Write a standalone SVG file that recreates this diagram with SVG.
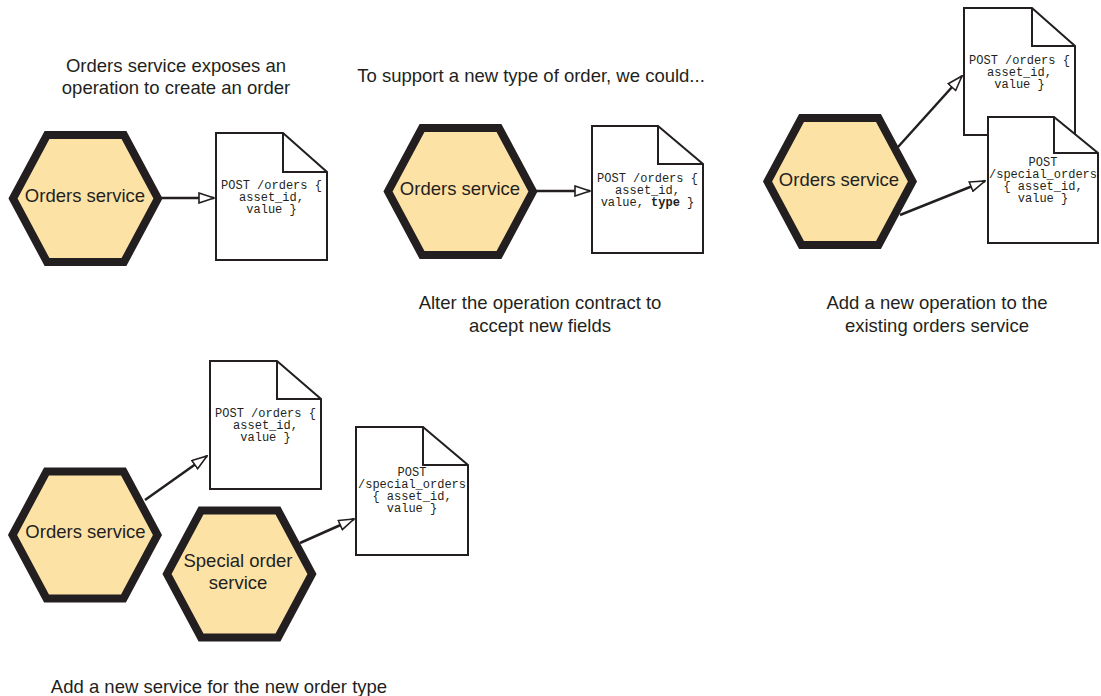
<svg xmlns="http://www.w3.org/2000/svg" xmlns:xlink="http://www.w3.org/1999/xlink" width="1101" height="696" viewBox="0 0 1101 696">
<style>
.cap{font-family:"Liberation Sans",Arial,Helvetica,sans-serif;font-size:18.5px;fill:#231f20;text-anchor:middle}
.hex{fill:#fde2a6;stroke:#231f20;stroke-width:8;stroke-linejoin:miter}
.doc{fill:#ffffff;stroke:#231f20;stroke-width:2}
.fold{fill:none;stroke:#231f20;stroke-width:2}
.code{font-family:"Liberation Mono","Courier New",monospace;font-size:12px;fill:#231f20;text-anchor:middle}
.lbl{font-family:"Liberation Sans",Arial,Helvetica,sans-serif;font-size:18.5px;fill:#231f20;text-anchor:middle}
.con{fill:none;stroke:#231f20;stroke-width:2.5;marker-end:url(#arr)}
</style>
<defs>
<marker id="arr" markerUnits="userSpaceOnUse" viewBox="-1 -1 17 12" refX="15" refY="5" markerWidth="17" markerHeight="12" orient="auto">
<path d="M0,0 L15,5 L0,10 Z" fill="#ffffff" stroke="#231f20" stroke-width="1.6" stroke-linejoin="miter"/>
</marker>
<path id="hexshape" d="M-72.5,0 L-38.5,-63.5 L38.5,-63.5 L72.5,0 L38.5,63.5 L-38.5,63.5 Z"/>
</defs>
<rect width="1101" height="696" fill="#ffffff"/>

<g id="captions">
<text class="cap" x="176" y="72">Orders service exposes an</text>
<text class="cap" x="176" y="94">operation to create an order</text>
<text class="cap" x="531" y="82">To support a new type of order, we could...</text>
<text class="cap" x="540" y="309">Alter the operation contract to</text>
<text class="cap" x="540" y="332">accept new fields</text>
<text class="cap" x="937" y="309">Add a new operation to the</text>
<text class="cap" x="937" y="332">existing orders service</text>
<text class="cap" x="219" y="693">Add a new service for the new order type</text>
</g>

<g id="connectors">
<path class="con" d="M160,198 L214,198"/>
<path class="con" d="M535,191 L590,191"/>
<path class="con" d="M898,147 L962,76"/>
<path class="con" d="M900,215 L985,181"/>
<path class="con" d="M145,500 L207,456"/>
<path class="con" d="M300,543 L354,519"/>
</g>

<g id="hex1">
<use xlink:href="#hexshape" class="hex" transform="translate(85.5,198.5)"/>
<text class="lbl" x="85" y="202">Orders service</text>
</g>
<g id="doc1">
<path class="doc" d="M216,133 H283 L327,172 V260 H216 Z"/>
<path class="fold" d="M283,133 V172 H327"/>
<text class="code" x="271.5" y="189">POST /orders {</text>
<text class="code" x="271.5" y="201">asset_id,</text>
<text class="code" x="271.5" y="213">value }</text>
</g>

<g id="hex2">
<use xlink:href="#hexshape" class="hex" transform="translate(460.5,191.5)"/>
<text class="lbl" x="460" y="195">Orders service</text>
</g>
<g id="doc2">
<path class="doc" d="M592,126 H658 L703,164 V253 H592 Z"/>
<path class="fold" d="M658,126 V164 H703"/>
<text class="code" x="647.5" y="182">POST /orders {</text>
<text class="code" x="647.5" y="194">asset_id,</text>
<text class="code" x="647.5" y="206">value, <tspan font-weight="bold">type</tspan> }</text>
</g>

<g id="hex3">
<use xlink:href="#hexshape" class="hex" transform="translate(840,181.5)"/>
<text class="lbl" x="839" y="186">Orders service</text>
</g>
<g id="doc3a">
<path class="doc" d="M964,8 H1032 L1075,46 V135 H964 Z"/>
<path class="fold" d="M1032,8 V46 H1075"/>
<text class="code" x="1019.5" y="64">POST /orders {</text>
<text class="code" x="1019.5" y="76">asset_id,</text>
<text class="code" x="1019.5" y="88">value }</text>
</g>
<g id="doc3b">
<path class="doc" d="M988,117 H1054 L1098,153 V243 H988 Z"/>
<path class="fold" d="M1054,117 V153 H1098"/>
<text class="code" x="1043" y="166">POST</text>
<text class="code" x="1043" y="178">/special_orders</text>
<text class="code" x="1043" y="190">{ asset_id,</text>
<text class="code" x="1043" y="202">value }</text>
</g>

<g id="hex4">
<use xlink:href="#hexshape" class="hex" transform="translate(85,535)"/>
<text class="lbl" x="85.5" y="538">Orders service</text>
</g>
<g id="hex5">
<use xlink:href="#hexshape" class="hex" transform="translate(239.5,574)"/>
<text class="lbl" x="238" y="567">Special order</text>
<text class="lbl" x="238" y="589">service</text>
</g>
<g id="doc4a">
<path class="doc" d="M210,361 H277 L321,399 V489 H210 Z"/>
<path class="fold" d="M277,361 V399 H321"/>
<text class="code" x="265.5" y="417">POST /orders {</text>
<text class="code" x="265.5" y="429">asset_id,</text>
<text class="code" x="265.5" y="441">value }</text>
</g>
<g id="doc4b">
<path class="doc" d="M356,427 H423 L468,465 V555 H356 Z"/>
<path class="fold" d="M423,427 V465 H468"/>
<text class="code" x="412" y="476">POST</text>
<text class="code" x="412" y="488">/special_orders</text>
<text class="code" x="412" y="500">{ asset_id,</text>
<text class="code" x="412" y="512">value }</text>
</g>
</svg>
